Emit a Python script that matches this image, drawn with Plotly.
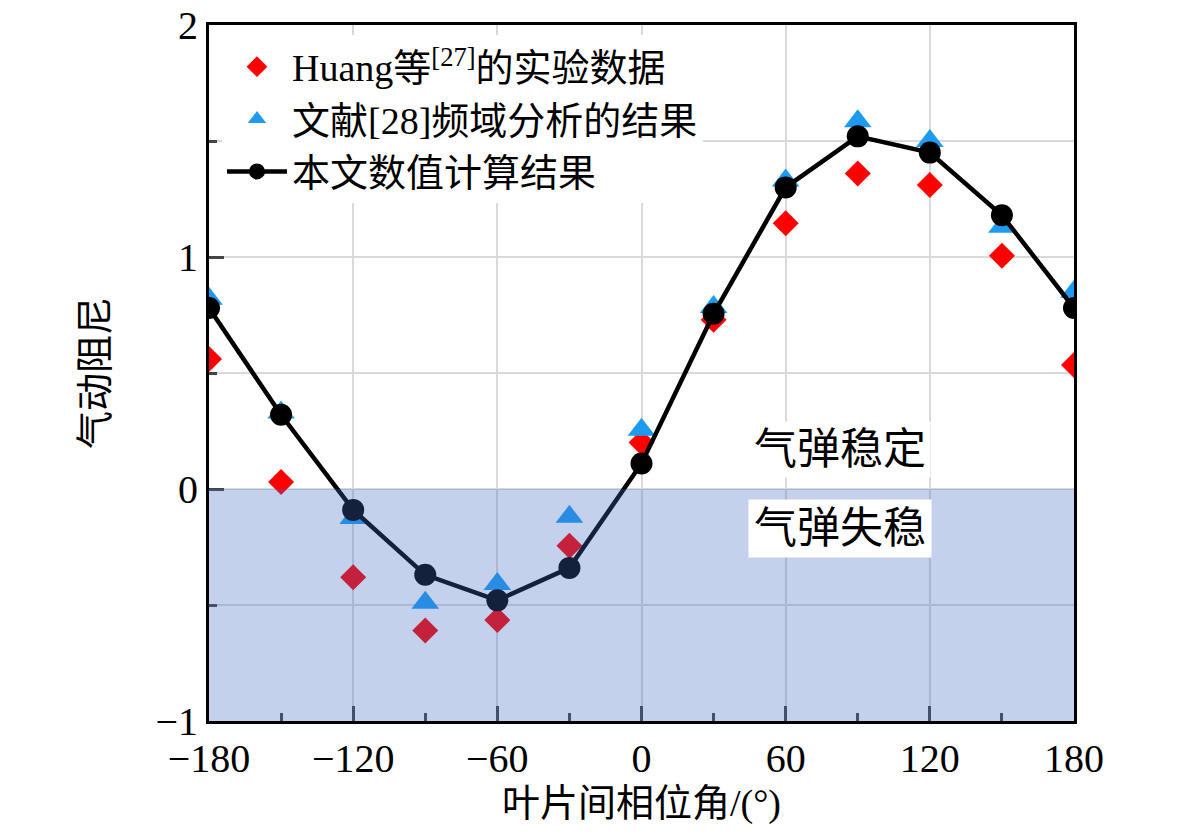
import plotly.graph_objects as go

# phase angle between blades (deg)
phase = [-180, -150, -120, -90, -60, -30, 0, 30, 60, 90, 120, 150, 180]

# Huang et al. [27] experiment
huang = [0.56, 0.03, -0.38, -0.61, -0.565, -0.245, 0.20, 0.73, 1.145, 1.36, 1.31, 1.005, 0.535]
# ref [28] frequency-domain results
freq = [0.82, 0.33, -0.125, -0.49, -0.41, -0.12, 0.255, 0.785, 1.33, 1.585, 1.50, 1.13, 0.85]
# this paper's numerical results
calc = [0.78, 0.32, -0.09, -0.37, -0.48, -0.34, 0.11, 0.755, 1.30, 1.52, 1.45, 1.18, 0.78]

serif = "Liberation Serif, Times New Roman, Noto Sans CJK SC"

fig = go.Figure()
fig.add_trace(go.Scatter(x=phase, y=huang, mode="markers", name="Huang等<sup>[27]</sup>的实验数据",
                         marker=dict(symbol="diamond", size=20, color="#ff0000")))
fig.add_trace(go.Scatter(x=phase, y=freq, mode="markers", name="文献[28]频域分析的结果",
                         marker=dict(symbol="triangle-up", size=24, color="#1e9bf0")))
fig.add_trace(go.Scatter(x=phase, y=calc, mode="lines+markers", name="本文数值计算结果",
                         line=dict(color="black", width=4.5),
                         marker=dict(symbol="circle", size=22, color="black")))

# unstable region (negative damping), tinted over everything
fig.add_shape(type="rect", xref="x", yref="y", x0=-180, x1=180, y0=-1, y1=0,
              fillcolor="rgba(65,106,197,0.31)", line=dict(width=0), layer="above")

fig.add_annotation(x=82.5, y=0.17, text="气弹稳定", showarrow=False, bgcolor="white",
                   font=dict(family=serif, size=43, color="black"), borderpad=4)
fig.add_annotation(x=82.5, y=-0.17, text="气弹失稳", showarrow=False, bgcolor="white",
                   font=dict(family=serif, size=43, color="black"), borderpad=5)

fig.update_layout(
    width=1165, height=824,
    margin=dict(l=201, r=99, t=17, b=111, autoexpand=False),
    paper_bgcolor="white", plot_bgcolor="white",
    font=dict(family=serif, size=40, color="black"),
    showlegend=True,
    legend=dict(x=0.015, y=0.985, xanchor="left", yanchor="top", bgcolor="white",
                font=dict(family=serif, size=38), tracegroupgap=0, itemwidth=60),
    xaxis=dict(range=[-180, 180], dtick=60, tick0=0, ticks="inside", ticklen=15, tickwidth=3,
               showline=True, linecolor="black", linewidth=3, mirror=True, automargin=False,
               ticklabeloverflow="allow",
               showgrid=True, gridcolor="#d9d9d9", gridwidth=2, zeroline=False,
               minor=dict(dtick=30, ticks="inside", ticklen=8, tickwidth=3, showgrid=False),
               title=dict(text="叶片间相位角/(°)", font=dict(size=38), standoff=10)),
    yaxis=dict(range=[-1, 2], dtick=1, ticks="inside", ticklen=15, tickwidth=3,
               showline=True, linecolor="black", linewidth=3, mirror=True, automargin=False,
               ticklabeloverflow="allow",
               showgrid=True, gridcolor="#d9d9d9", gridwidth=2, zeroline=False,
               minor=dict(dtick=0.5, ticks="inside", ticklen=8, tickwidth=3,
                          showgrid=True, gridcolor="#d9d9d9", gridwidth=2),
               title=dict(text="气动阻尼", font=dict(size=38), standoff=36)),
)

fig.write_html("out.html")
